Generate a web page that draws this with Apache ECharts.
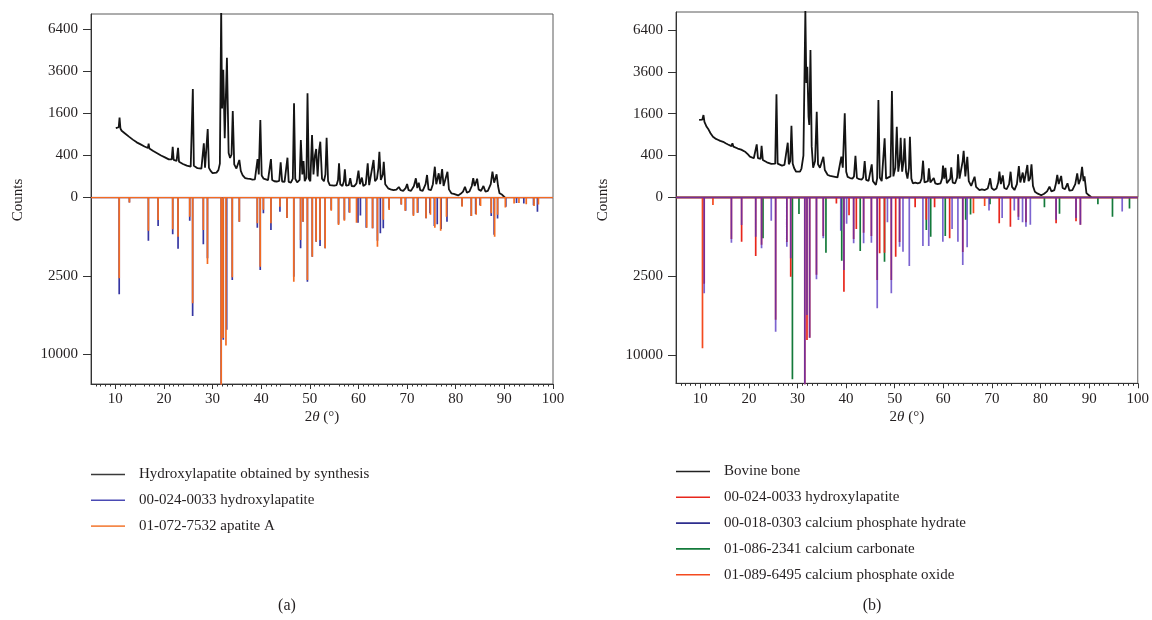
<!DOCTYPE html>
<html><head><meta charset="utf-8">
<script src="https://cdn.jsdelivr.net/npm/echarts@6/dist/echarts.min.js"></script>
<style>html,body{margin:0;padding:0;background:#fff}#c{width:1152px;height:620px}</style>
</head><body><div id="c"></div>
<script>
// ---------- tick labels ----------
const xTicks = [10,20,30,40,50,60,70,80,90,100];
const topTicks = [0,400,1600,3600,6400];      // counts (square-root scale)
const bottomTicks = [2500,10000];             // counts (square-root scale, downward)
const xRange = [5,100];

// ---------- panel (a) ----------
const aSynth = [[10.1,1090],[10.4,1060],[10.7,1120],[10.87,1450],[11.05,1080],[11.3,1010],[11.6,990],[12.0,930],[12.4,890],[12.8,840],[13.2,800],[13.6,760],[14.0,720],[14.4,690],[14.8,660],[15.2,640],[15.6,610],[16.0,590],[16.4,570],[16.7,555],[16.85,660],[17.0,545],[17.4,520],[17.8,490],[18.2,470],[18.6,445],[19.0,420],[19.4,400],[19.8,380],[20.2,365],[20.6,345],[21.0,330],[21.4,320],[21.6,330],[21.8,585],[22.0,320],[22.3,300],[22.6,305],[22.9,560],[23.1,290],[23.5,275],[23.9,255],[24.3,240],[24.7,230],[25.1,222],[25.5,215],[25.75,240],[25.94,2670],[26.15,230],[26.5,205],[26.9,195],[27.3,190],[27.7,190],[28.0,200],[28.2,666],[28.45,200],[28.7,215],[29.0,1064],[29.25,200],[29.6,160],[30.0,135],[30.4,125],[30.8,140],[31.2,170],[31.5,260],[31.77,8000],[31.95,1800],[32.2,3700],[32.5,800],[32.95,4430],[33.3,450],[33.6,354],[33.9,420],[34.15,1700],[34.45,250],[34.9,190],[35.2,200],[35.5,320],[35.8,160],[36.2,110],[36.7,85],[37.2,80],[37.7,78],[38.2,72],[38.7,75],[39.0,90],[39.25,336],[39.5,120],[39.82,1361],[40.1,110],[40.5,80],[40.9,70],[41.4,68],[41.8,80],[42.0,336],[42.25,70],[42.7,60],[43.2,58],[43.7,62],[44.0,281],[44.3,58],[44.8,55],[45.2,65],[45.4,359],[45.65,55],[46.1,50],[46.5,80],[46.75,2013],[47.0,80],[47.4,52],[47.9,70],[48.15,750],[48.45,120],[48.7,300],[48.95,60],[49.3,90],[49.52,2461],[49.8,80],[50.1,60],[50.45,886],[50.75,120],[51.05,400],[51.3,533],[51.6,100],[51.9,500],[52.15,706],[52.5,80],[52.9,60],[53.2,120],[53.45,811],[53.75,60],[54.1,35],[54.5,35],[55.0,32],[55.5,35],[55.8,70],[56.0,265],[56.25,40],[56.7,30],[57.0,60],[57.2,180],[57.45,32],[58.0,35],[58.3,84],[58.6,30],[59.1,28],[59.6,45],[60.0,163],[60.3,40],[60.7,90],[61.0,30],[61.5,40],[61.9,265],[62.2,35],[62.6,40],[63.1,319],[63.4,60],[63.8,80],[64.1,200],[64.3,476],[64.6,70],[65.0,120],[65.2,290],[65.5,40],[66.1,19],[66.6,15],[67.2,12],[67.8,14],[68.3,25],[68.7,12],[69.2,10],[69.7,20],[70.0,41],[70.3,12],[70.8,10],[71.4,30],[71.8,84],[72.1,20],[72.4,50],[72.7,12],[73.2,10],[73.8,40],[74.1,115],[74.4,15],[74.9,12],[75.3,40],[75.7,215],[76.0,40],[76.5,133],[76.8,40],[77.2,184],[77.5,30],[77.9,40],[78.3,151],[78.6,15],[79.1,4],[79.6,3],[80.0,2],[80.5,1],[81.0,3],[81.5,8],[81.9,26],[82.3,5],[82.8,8],[83.3,30],[83.6,84],[83.9,30],[84.4,80],[84.7,15],[85.2,10],[85.7,30],[86.1,8],[86.6,10],[87.2,40],[87.55,151],[87.9,50],[88.4,122],[88.7,30],[89.0,4],[89.5,2],[90.1,0]];
const aHA = [[10.8,3800],[12.9,10],[16.8,757],[18.8,330],[21.8,549],[22.9,1063],[25.3,218],[25.9,5700],[28.1,890],[28.95,1500],[31.77,14500],[32.2,8200],[32.9,7100],[34.05,2760],[35.5,237],[39.2,370],[39.8,2130],[40.45,101],[42.0,428],[43.85,82],[45.3,170],[46.7,2545],[48.1,1047],[48.6,237],[49.5,2875],[50.5,1421],[51.3,792],[52.1,954],[53.15,1047],[54.4,60],[55.9,280],[57.1,200],[58.1,90],[59.9,257],[60.4,130],[61.6,370],[62.9,385],[63.9,760],[64.5,520],[65.1,385],[66.3,50],[68.8,20],[69.7,71],[71.3,120],[72.2,94],[73.9,176],[74.7,100],[75.6,330],[76.2,290],[77.0,400],[78.2,237],[81.3,30],[83.2,139],[84.1,110],[85.0,25],[87.3,139],[87.9,560],[88.6,180],[90.3,35],[92.5,12],[94.0,15],[96.0,25],[96.8,82]];
const aApatiteA = [[10.8,2650],[12.9,10],[16.8,447],[18.8,205],[21.8,411],[22.9,623],[25.3,150],[25.9,4540],[28.1,428],[28.95,1795],[31.77,14500],[32.15,8000],[32.75,8900],[34.05,2585],[35.5,237],[39.2,270],[39.8,1940],[40.45,60],[42.0,270],[43.85,34],[45.3,170],[46.7,2875],[48.1,733],[48.6,237],[49.5,2760],[50.5,1421],[51.3,792],[52.1,733],[53.15,1047],[54.4,70],[55.9,307],[57.1,218],[58.2,94],[59.6,257],[61.7,370],[62.9,385],[63.9,982],[65.1,200],[66.3,63],[68.8,20],[69.6,71],[71.3,139],[72.1,94],[73.9,176],[74.8,120],[75.7,370],[76.9,447],[78.1,150],[81.3,34],[83.2,139],[84.2,120],[85.1,30],[87.3,100],[88.0,623],[88.6,120],[90.2,40],[92.0,15],[93.0,12],[94.5,18],[96.1,30],[97.0,20]];

// ---------- panel (b) ----------
const bBone = [[9.75,1370],[10.1,1400],[10.4,1380],[10.65,1550],[10.85,1300],[11.3,1140],[11.7,1050],[12.1,940],[12.6,840],[13.1,790],[13.6,760],[14.1,730],[14.7,705],[15.2,670],[15.7,640],[16.1,620],[16.4,600],[16.6,670],[16.8,590],[17.2,570],[17.7,545],[18.1,530],[18.4,520],[18.6,560],[18.8,505],[19.3,470],[19.8,420],[20.2,380],[20.6,360],[21.0,350],[21.35,360],[21.6,643],[21.85,350],[22.2,330],[22.4,340],[22.6,610],[22.85,320],[23.25,290],[23.7,280],[24.1,270],[24.6,255],[25.0,250],[25.4,260],[25.66,2430],[25.9,260],[26.3,239],[26.8,230],[27.3,240],[27.7,250],[27.98,683],[28.2,250],[28.5,300],[28.74,1174],[29.0,260],[29.3,193],[29.7,150],[30.1,132],[30.5,150],[30.8,190],[31.2,400],[31.6,8000],[31.8,3000],[32.0,3905],[32.25,1500],[32.4,1200],[32.65,4967],[32.9,600],[33.2,200],[33.6,300],[33.94,1678],[34.2,250],[34.6,200],[35.0,190],[35.3,377],[35.6,170],[36.2,114],[36.7,105],[37.2,100],[37.7,95],[38.2,90],[38.6,100],[39.0,377],[39.3,200],[39.7,1615],[40.0,150],[40.3,95],[40.8,85],[41.3,80],[41.6,100],[41.9,396],[42.2,85],[42.7,75],[43.2,72],[43.5,90],[43.8,302],[44.1,70],[44.6,62],[45.0,70],[45.25,249],[45.5,60],[46.1,35],[46.35,80],[46.62,2169],[46.9,90],[47.3,60],[47.6,70],[47.9,797],[48.2,80],[48.6,70],[49.1,100],[49.4,2588],[49.7,100],[50.1,200],[50.4,1141],[50.7,150],[51.0,300],[51.2,813],[51.5,150],[51.8,300],[52.0,797],[52.3,150],[52.6,80],[52.9,200],[53.1,841],[53.4,80],[53.7,45],[54.2,50],[54.7,45],[55.2,50],[55.5,80],[55.8,307],[56.1,50],[56.5,40],[56.8,60],[57.0,193],[57.3,50],[57.7,40],[58.0,86],[58.3,45],[58.8,40],[59.4,45],[59.7,80],[59.9,229],[60.15,80],[60.4,200],[60.7,45],[61.1,40],[61.4,80],[61.6,206],[61.9,50],[62.4,45],[62.8,90],[63.0,423],[63.3,80],[63.7,90],[63.95,300],[64.15,497],[64.5,100],[64.9,377],[65.2,60],[65.7,30],[66.1,30],[66.4,97],[66.7,25],[67.4,12],[67.9,14],[68.5,12],[69.1,18],[69.35,40],[69.6,83],[69.9,20],[70.4,12],[70.9,18],[71.25,50],[71.5,150],[71.8,40],[72.2,110],[72.5,20],[73.0,15],[73.5,40],[73.8,150],[74.1,25],[74.6,12],[75.1,40],[75.5,224],[75.8,50],[76.3,140],[76.6,50],[77.25,239],[77.5,60],[77.8,80],[78.1,249],[78.4,30],[78.8,7],[79.4,3],[80.1,1],[80.7,3],[81.3,8],[81.8,26],[82.2,8],[82.8,12],[83.1,40],[83.4,114],[83.7,40],[84.2,105],[84.5,20],[85.0,15],[85.5,45],[85.9,10],[86.5,12],[87.1,40],[87.5,132],[87.8,40],[88.2,80],[88.5,214],[88.8,60],[89.0,100],[89.4,4],[89.9,1],[90.4,0]];
const bHA = [[10.8,3000],[16.4,700],[18.5,790],[21.4,1380],[22.6,900],[25.5,6000],[27.8,800],[28.6,2525],[31.5,14500],[31.95,8160],[32.5,7900],[33.9,2400],[35.3,600],[38.0,15],[39.55,3570],[40.6,130],[41.55,700],[42.1,400],[43.6,500],[45.2,600],[46.4,2740],[46.9,1256],[47.9,1230],[49.3,2740],[50.2,1413],[51.0,800],[54.2,40],[56.5,200],[58.2,40],[61.3,673],[64.0,1200],[71.5,271],[73.8,346],[75.45,150],[77.0,250],[83.2,271],[87.3,230],[88.2,300]];
const bHydrate = [[10.8,3690],[16.4,825],[18.5,307],[21.4,622],[22.6,1042],[24.6,220],[25.5,7230],[27.8,977],[28.6,1490],[31.5,14500],[31.95,5550],[32.5,7900],[33.9,2694],[35.3,673],[38.9,446],[39.55,2115],[40.1,280],[41.55,848],[43.6,848],[45.2,825],[46.4,4935],[48.5,250],[49.3,3690],[51.0,977],[51.7,1185],[53.0,1890],[55.8,950],[57.0,950],[59.9,790],[61.8,400],[63.0,790],[64.0,1836],[64.9,1000],[69.4,70],[72.1,170],[74.6,70],[75.45,207],[76.3,250],[77.0,346],[77.9,300],[83.2,200],[87.3,170],[88.2,300],[96.8,80]];
const bCalcite = [[22.9,673],[28.95,13270],[30.3,112],[35.85,1228],[39.1,1610],[42.9,1155],[47.9,1660],[56.5,428],[57.4,622],[60.4,600],[64.6,200],[65.6,120],[69.6,20],[80.8,40],[83.9,110],[91.8,20],[94.8,150],[98.3,50]];
const bOxide = [[10.45,9130],[12.6,24],[66.2,103],[68.5,30]];

// ---------- build ----------
const FONT = '"Liberation Serif", "Times New Roman", serif';
const TXT = '#231f20';
const sq = v => Math.sqrt(v);
const curve = arr => arr.map(p => [p[0], sq(p[1])]);
function sticks(peaks){
  const s = peaks.slice().sort((a,b)=>a[0]-b[0]);
  const d = [[xRange[0],0]];
  s.forEach(p => { d.push([p[0],0],[p[0],sq(p[1])],[p[0],0]); });
  d.push([xRange[1],0]);
  return d;
}
const topPos = topTicks.map(sq), botPos = bottomTicks.map(sq);

const panels = [
  {left:91, top:14, topH:183.5, topMax:87.4, botH:186.5, botMax:118.8},
  {left:676, top:12, topH:185.3, botH:186, topMax:88.7, botMax:117.7}
];
const grids=[], xAxes=[], yAxes=[];
panels.forEach((p,i)=>{
  grids.push({left:p.left, top:p.top, width:462, height:p.topH, show:true, borderColor:'#5a5a5a', borderWidth:1});
  grids.push({left:p.left, top:p.top+p.topH, width:462, height:p.botH, show:true, borderColor:'#5a5a5a', borderWidth:1});
  const g0 = i*2, g1 = i*2+1;
  xAxes.push({gridIndex:g0, type:'value', min:xRange[0], max:xRange[1], show:false});
  xAxes.push({gridIndex:g1, type:'value', min:xRange[0], max:xRange[1], interval:5, position:'bottom',
    axisLine:{show:true, onZero:false, lineStyle:{color:'#333', width:1}},
    axisTick:{show:true, customValues:xTicks, length:5, lineStyle:{color:'#333'}},
    minorTick:{show:true, splitNumber:5, length:2.5, lineStyle:{color:'#333'}},
    axisLabel:{customValues:xTicks, margin:8, fontFamily:FONT, fontSize:15, color:TXT},
    splitLine:{show:false},
    name:'2{i|θ} (°)', nameLocation:'middle', nameGap:26,
    nameTextStyle:{fontFamily:FONT, fontSize:15, color:TXT, rich:{i:{fontFamily:FONT, fontSize:15, fontStyle:'italic', color:TXT}}}
  });
  yAxes.push({gridIndex:g0, type:'value', min:0, max:p.topMax,
    axisLine:{show:true, lineStyle:{color:'#333'}},
    axisTick:{show:true, customValues:topPos, length:8, lineStyle:{color:'#333'}},
    axisLabel:{customValues:topPos, margin:13, formatter:v=>String(Math.round(v*v)), fontFamily:FONT, fontSize:15, color:TXT},
    splitLine:{show:false}});
  yAxes.push({gridIndex:g1, type:'value', min:0, max:p.botMax, inverse:true,
    axisLine:{show:true, lineStyle:{color:'#333'}},
    axisTick:{show:true, customValues:botPos, length:8, lineStyle:{color:'#333'}},
    axisLabel:{customValues:botPos, margin:13, formatter:v=>String(Math.round(v*v)), fontFamily:FONT, fontSize:15, color:TXT},
    splitLine:{show:false}});
});

function ser(name, data, color, xi, yi, width, opacity){
  return {name, type:'line', data, xAxisIndex:xi, yAxisIndex:yi, symbol:'none', showSymbol:false,
    clip:true, animation:false, lineStyle:{color, width:width||1.6, opacity:opacity==null?1:opacity},
    itemStyle:{color}, emphasis:{disabled:true}};
}
const C = {black:'#141414', blue:'#3636a2', orange:'#f36b21', red:'#e8261c', hydrate:'#5030c0', green:'#137a3a', oxide:'#f44a1f'};
const series = [
  ser('a:Hydroxylapatite obtained by synthesis', curve(aSynth), C.black, 0, 0, 1.8),
  ser('a:00-024-0033 hydroxylapatite', sticks(aHA), C.blue, 1, 1, 1.7),
  ser('a:01-072-7532 apatite A', sticks(aApatiteA), C.orange, 1, 1, 1.7),
  ser('b:Bovine bone', curve(bBone), C.black, 2, 2, 1.8),
  ser('b:01-086-2341 calcium carbonate', sticks(bCalcite), C.green, 3, 3, 1.7),
  ser('b:01-089-6495 calcium phosphate oxide', sticks(bOxide), C.oxide, 3, 3, 1.7),
  ser('b:00-024-0033 hydroxylapatite', sticks(bHA), C.red, 3, 3, 1.7),
  ser('b:00-018-0303 calcium phosphate hydrate', sticks(bHydrate), C.hydrate, 3, 3, 1.7, 0.75)
];

const legendCommon = {orient:'vertical', icon:'rect', itemWidth:34, itemHeight:1.6, itemGap:10.8, padding:0, selectedMode:false,
  formatter:n=>n.slice(2), textStyle:{fontFamily:FONT, fontSize:15, lineHeight:14, color:TXT, padding:[0,0,0,9]}};
const L = (name,color)=>({name, itemStyle:{color, opacity:1}});
const option = {
  backgroundColor:'#fff',
  animation:false,
  grid:grids, xAxis:xAxes, yAxis:yAxes, series,
  legend:[
    Object.assign({left:91, top:467, data:[
      L('a:Hydroxylapatite obtained by synthesis','#3a3a3a'),
      L('a:00-024-0033 hydroxylapatite','#4a4ab4'),
      L('a:01-072-7532 apatite A','#f4884a')]}, legendCommon),
    Object.assign({left:676, top:464, data:[
      L('b:Bovine bone','#222'),
      L('b:00-024-0033 hydroxylapatite','#e8261c'),
      L('b:00-018-0303 calcium phosphate hydrate','#2e2e8e'),
      L('b:01-086-2341 calcium carbonate','#137a3a'),
      L('b:01-089-6495 calcium phosphate oxide','#f44a1f')]}, legendCommon)
  ],
  graphic:[
    {type:'text', x:18, y:200, rotation:Math.PI/2, style:{text:'Counts', fontFamily:FONT, fontSize:15, fill:TXT, align:'center', verticalAlign:'middle'}},
    {type:'text', x:603, y:200, rotation:Math.PI/2, style:{text:'Counts', fontFamily:FONT, fontSize:15, fill:TXT, align:'center', verticalAlign:'middle'}},
    {type:'text', x:287, y:606, style:{text:'(a)', fontFamily:FONT, fontSize:16, fill:TXT, align:'center', verticalAlign:'middle'}},
    {type:'text', x:872, y:606, style:{text:'(b)', fontFamily:FONT, fontSize:16, fill:TXT, align:'center', verticalAlign:'middle'}}
  ]
};
const chart = echarts.init(document.getElementById('c'), null, {renderer:'canvas'});
chart.setOption(option);
</script></body></html>
